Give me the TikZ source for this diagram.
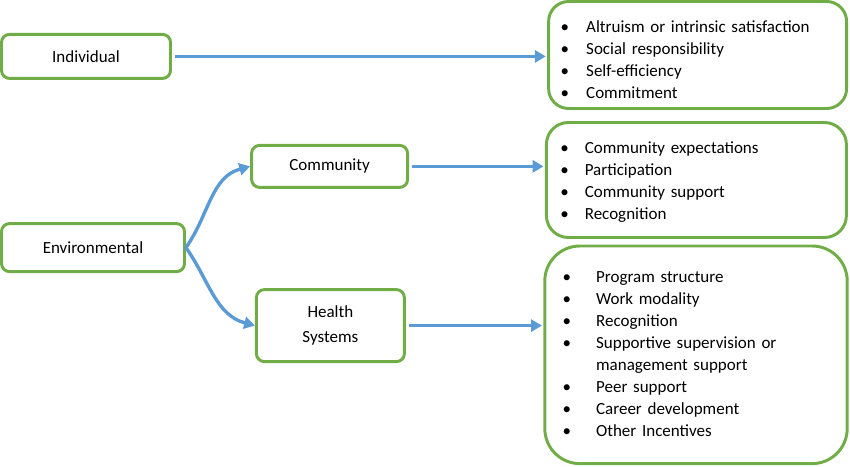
\documentclass[tikz,border=0pt]{standalone}
\usepackage{fontspec}
\setmainfont{Carlito}
\usetikzlibrary{arrows.meta}
\definecolor{boxgreen}{RGB}{112,173,71}
\definecolor{linkblue}{RGB}{91,155,213}
\newcommand{\diagfont}{\fontsize{12.1}{15.65}\selectfont}
\newcommand{\itm}{\textbullet}
\newcommand{\lowerlist}[2]{\raisebox{-#1}[\height][\depth]{#2}}
\tikzset{
  factor/.style={draw=boxgreen, line width=2.1pt, rounded corners=0.2cm, font=\diagfont, align=center, inner sep=0pt},
  listbox/.style={draw=boxgreen, line width=2.1pt, font=\diagfont, align=left, inner sep=0pt},
  link/.style={draw=linkblue, line width=2.4pt, -{Triangle[length=0.27cm, width=0.3cm]}}
}
\begin{document}
\begin{tikzpicture}
\useasboundingbox (0,0) rectangle (21.25,11.65);
\node [factor, minimum width=4.225cm, minimum height=1.1cm] (individual) at (2.15,10.24) {Individual};
\node [factor, minimum width=3.9cm, minimum height=1.05cm] (community) at (8.24,7.49) {Community};
\node [factor, minimum width=4.575cm, minimum height=1.2cm] (environmental) at (2.325,5.46) {Environmental};
\node [factor, minimum width=3.7cm, minimum height=1.8cm] (health) at (8.26,3.51) {Health\\[2pt]Systems};
\node [listbox, rounded corners=0.5cm, minimum width=7.45cm, minimum height=2.675cm, text width=6.85cm] (motives) at (17.44,10.275) {\lowerlist{0.15cm}{\begin{tabular}{@{}p{0.64cm}@{}l@{}}
\itm & Altruism or intrinsic satisfaction\\
\itm & Social responsibility\\
\itm & Self-efficiency\\
\itm & Commitment
\end{tabular}}};
\node [listbox, rounded corners=0.55cm, minimum width=7.5cm, minimum height=2.875cm, text width=6.8cm] (communal) at (17.41,7.15) {\lowerlist{0.05cm}{\begin{tabular}{@{}p{0.61cm}@{}l@{}}
\itm & Community expectations\\
\itm & Participation\\
\itm & Community support\\
\itm & Recognition
\end{tabular}}};
\node [listbox, rounded corners=0.875cm, minimum width=7.56cm, minimum height=5.44cm, text width=6.675cm] (system) at (17.4,2.78) {\begin{tabular}{@{}p{0.84cm}@{}l@{}}
\itm & Program structure\\
\itm & Work modality\\
\itm & Recognition\\
\itm & Supportive supervision or\\
 & management support\\
\itm & Peer support\\
\itm & Career development\\
\itm & Other Incentives
\end{tabular}};
\draw [link, shorten <=2pt, shorten >=1pt] (individual.east) -- (individual.east -| motives.west);
\draw [link, shorten <=2pt, shorten >=1pt] (community.east) -- (community.east -| communal.west);
\draw [link, shorten <=2pt, shorten >=1pt] (health.east) -- (health.east -| system.west);
\draw [link] (environmental.east) to [out=55, in=195] (community.west);
\draw [link] (environmental.east) to [out=-55, in=165] (health.west);
\end{tikzpicture}
\end{document}
